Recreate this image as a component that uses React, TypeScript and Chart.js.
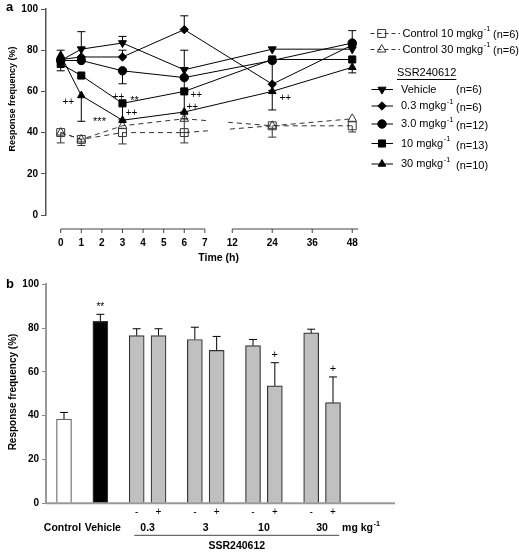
import React, { useEffect, useRef } from 'react';
import { Chart, registerables } from 'chart.js';
import { drawPoint } from 'chart.js/helpers';

Chart.register(...registerables);

const FONT = '"Liberation Sans", Arial, Helvetica, sans-serif';

// ---------------- Panel a data ----------------
const timesH = [0, 1, 3, 6, 24, 48];
const earlyTickHours = [0, 1, 2, 3, 4, 5, 6, 7];
const lateTickHours = [12, 24, 36, 48];

const vehicleA = [75, 80.5, 83.5, 70.5, 80.5, 80.5];
const dose03A = [75.5, 76.7, 76.7, 90, 63.5, 82.5];
const dose3A = [75, 75, 70, 66.7, 75, 83.5];
const dose10A = [73.3, 67.7, 54.2, 60, 75.5, 75.5];
const dose30A = [77.5, 58, 46, 50, 60, 71.7];
const control10A = [40, 36.7, 40, 40, 43.3, 43.3];
const control30A = [40, 36.7, 43.3, 46.7, 43.3, 46.7];

const vehicleErrUp = [0, 8.5, 3.2, 9.5, 0, 0];
const vehicleErrDown = [0, 0, 0, 4, 0, 0];
const dose03ErrUp = [0, 0, 3.3, 6.7, 0, 0];
const dose03ErrDown = [0, 0, 0, 0, 0, 0];
const dose3ErrUp = [0, 0, 0, 0, 0, 6];
const dose3ErrDown = [0, 0, 6.3, 6.7, 0, 0];
const dose10ErrUp = [0, 0, 0, 0, 0, 0];
const dose10ErrDown = [3.3, 0, 8, 10, 15, 0];
const dose30ErrUp = [2.5, 0, 0, 0, 0, 0];
const dose30ErrDown = [0, 12.5, 0, 3.3, 9, 2.7];
const control10ErrUp = [0, 0, 0, 0, 0, 0];
const control10ErrDown = [5, 3, 5.5, 5, 5.5, 3];
const control30ErrUp = [0, 0, 0, 0, 0, 0];
const control30ErrDown = [0, 0, 0, 6.7, 0, 0];

const drugLabels = ['Vehicle', '0.3 mgkg', '3.0 mgkg', '10 mgkg', '30 mgkg'];
const drugLabelSup = [false, true, true, true, true];
const drugN = ['(n=6)', '(n=6)', '(n=12)', '(n=13)', '(n=10)'];
const controlLabels = ['Control 10 mgkg', 'Control 30 mgkg'];
const controlN = ['(n=6)', '(n=6)'];
const drugName = 'SSR240612';
const yTitle = 'Response frequency (%)';
const xTitleA = 'Time (h)';

// significance marks on panel a: series index, point index, offset
const sigMarksA = [
  { text: '++', series: 4, point: 1, dx: -13, dy: 7 },
  { text: '++', series: 3, point: 2, dx: -4, dy: -6 },
  { text: '**', series: 3, point: 2, dx: 12, dy: -5 },
  { text: '***', series: 4, point: 2, dx: -23, dy: -1 },
  { text: '++', series: 4, point: 2, dx: 9, dy: -7 },
  { text: '++', series: 3, point: 3, dx: 12, dy: 4 },
  { text: '++', series: 4, point: 3, dx: 8, dy: -5 },
  { text: '++', series: 4, point: 4, dx: 13, dy: 7 },
];

// ---------------- Panel b data ----------------
const singleLabels = ['Control', 'Vehicle'];
const singleValues = [38.4, 83.1];
const singleErr = [3.1, 3.2];
const singleSig = ['', '**'];
const doseLabels = ['0.3', '3', '10', '30'];
const minusValues = [76.6, 74.8, 72, 77.8];
const minusErr = [3.1, 5.6, 2.8, 1.7];
const minusSig = ['', '', '', ''];
const plusValues = [76.6, 69.8, 53.6, 46];
const plusErr = [3.1, 6.4, 10.6, 11.7];
const plusSig = ['', '', '+', '+'];
const pairSigns = ['-', '+'];
const unitBase = 'mg kg';

// ---------------- Layout / styles ----------------
const W = 519;
const A = { h: 265, left: 46, right: 362, top: 6.7, bottom: 215, xMin: -0.714, xMax: 14.63 };
const B = { h: 287, left: 46, right: 395, top: 19.3, bottom: 238.3, xMin: -2.476, xMax: 45.53 };
const BREAK_START = 7;
const BREAK_END = 12;
const BREAK_OFFSET = 8.33;
const LATE_UNITS_PER_HOUR = 1.942 / 12;
const axisPos = (t: number) => (t <= BREAK_START ? t : BREAK_OFFSET + (t - BREAK_END) * LATE_UNITS_PER_HOUR);

const GROUP_GAP = 5;
const PAIR_GAP = 3;

const markerSpecs = [
  { style: 'triangle', rotation: 180, radius: 4.6 },
  { style: 'rectRot', rotation: 0, radius: 4.2 },
  { style: 'circle', rotation: 0, radius: 4.2 },
  { style: 'rect', rotation: 0, radius: 5 },
  { style: 'triangle', rotation: 0, radius: 4.4 },
];
const controlMarkerSpecs = [
  { style: 'rect', rotation: 0, radius: 5.6 },
  { style: 'triangle', rotation: 0, radius: 5 },
];

function drawMarker(ctx: CanvasRenderingContext2D, spec: any, x: number, y: number, fill: string, stroke: string) {
  ctx.save();
  ctx.setLineDash([]);
  ctx.fillStyle = fill;
  ctx.strokeStyle = stroke;
  ctx.lineWidth = 1;
  drawPoint(ctx, { pointStyle: spec.style, rotation: spec.rotation, radius: spec.radius, borderWidth: 1 } as any, x, y);
  ctx.restore();
}

function supText(ctx: CanvasRenderingContext2D, base: string, sup: string, x: number, y: number, size: number, weight: string) {
  ctx.font = `${weight} ${size}px ${FONT}`;
  ctx.textAlign = 'left';
  ctx.textBaseline = 'middle';
  ctx.fillText(base, x, y);
  const w = ctx.measureText(base).width;
  if (sup) {
    ctx.font = `${weight} ${size * 0.68}px ${FONT}`;
    ctx.fillText(sup, x + w + 0.5, y - size * 0.38);
  }
}

function drawRotatedTitle(ctx: CanvasRenderingContext2D, text: string, x: number, y: number, size: number) {
  ctx.save();
  ctx.translate(x, y);
  ctx.rotate(-Math.PI / 2);
  ctx.font = `bold ${size}px ${FONT}`;
  ctx.textAlign = 'center';
  ctx.textBaseline = 'middle';
  ctx.fillStyle = '#000';
  ctx.fillText(text, 0, 0);
  ctx.restore();
}

function drawErrorBar(ctx: CanvasRenderingContext2D, x: number, y0: number, y1: number, cap: number) {
  ctx.beginPath();
  ctx.moveTo(x, y0);
  ctx.lineTo(x, y1);
  ctx.moveTo(x - cap, y1);
  ctx.lineTo(x + cap, y1);
  ctx.stroke();
}

// ---------------- Panel a config ----------------
const drugSeries = [
  { values: vehicleA, up: vehicleErrUp, down: vehicleErrDown },
  { values: dose03A, up: dose03ErrUp, down: dose03ErrDown },
  { values: dose3A, up: dose3ErrUp, down: dose3ErrDown },
  { values: dose10A, up: dose10ErrUp, down: dose10ErrDown },
  { values: dose30A, up: dose30ErrUp, down: dose30ErrDown },
];
const controlSeries = [
  { values: control10A, up: control10ErrUp, down: control10ErrDown },
  { values: control30A, up: control30ErrUp, down: control30ErrDown },
];
const allSeriesA = [...drugSeries, ...controlSeries];
const FIRST_CONTROL = drugSeries.length;

function buildConfigA(): any {
  const datasets: any[] = [];
  drugSeries.forEach((s, i) => {
    const m = markerSpecs[i];
    datasets.push({
      label: drugLabels[i],
      data: timesH.map((t, j) => ({ x: axisPos(t), y: s.values[j] })),
      borderColor: '#000',
      borderWidth: 1,
      pointStyle: m.style,
      pointRotation: m.rotation,
      pointRadius: m.radius,
      pointBackgroundColor: '#000',
      pointBorderColor: '#000',
      pointBorderWidth: 1,
      tension: 0,
      clip: false,
    });
  });
  controlSeries.forEach((s, i) => {
    const m = controlMarkerSpecs[i];
    datasets.push({
      label: controlLabels[i],
      data: timesH.map((t, j) => ({ x: axisPos(t), y: s.values[j] })),
      borderColor: '#333',
      borderWidth: 1,
      borderDash: [5, 4],
      pointStyle: m.style,
      pointRotation: m.rotation,
      pointRadius: m.radius,
      pointBackgroundColor: 'rgba(0,0,0,0)',
      pointBorderColor: '#333',
      pointBorderWidth: 1,
      tension: 0,
      clip: false,
    });
  });

  const plugin = {
    id: 'panelA',
    beforeDatasetsDraw(chart: any) {
      const ctx = chart.ctx as CanvasRenderingContext2D;
      const ys = chart.scales.y;
      ctx.save();
      ctx.lineWidth = 1;
      allSeriesA.forEach((s, i) => {
        const meta = chart.getDatasetMeta(i);
        ctx.strokeStyle = i >= FIRST_CONTROL ? '#333' : '#000';
        s.values.forEach((v, j) => {
          const pt = meta.data[j];
          if (s.up[j] > 0) drawErrorBar(ctx, pt.x, pt.y, ys.getPixelForValue(v + s.up[j]), 4);
          if (s.down[j] > 0) drawErrorBar(ctx, pt.x, pt.y, ys.getPixelForValue(v - s.down[j]), 4);
        });
      });
      ctx.restore();
    },
    afterDatasetDraw(chart: any, args: any) {
      if (args.index !== FIRST_CONTROL) return;
      const xs = chart.scales.x;
      const ca = chart.chartArea;
      const x0 = xs.getPixelForValue(axisPos(BREAK_START)) + 3;
      const x1 = xs.getPixelForValue(axisPos(BREAK_END)) - 4;
      const ctx = chart.ctx as CanvasRenderingContext2D;
      ctx.save();
      ctx.fillStyle = '#fff';
      ctx.fillRect(x0, ca.top, x1 - x0, ca.bottom - ca.top);
      ctx.restore();
    },
    afterDraw(chart: any) {
      const ctx = chart.ctx as CanvasRenderingContext2D;
      const xs = chart.scales.x;
      const ca = chart.chartArea;
      ctx.save();
      ctx.fillStyle = '#000';
      // broken x axis
      const axisY = ca.bottom + 14;
      ctx.strokeStyle = '#444';
      ctx.lineWidth = 1;
      ctx.setLineDash([]);
      const e0 = xs.getPixelForValue(axisPos(earlyTickHours[0]));
      const e1 = xs.getPixelForValue(axisPos(earlyTickHours[earlyTickHours.length - 1]));
      const l0 = xs.getPixelForValue(axisPos(lateTickHours[0]));
      const l1 = xs.getPixelForValue(axisPos(lateTickHours[lateTickHours.length - 1])) + 6;
      ctx.beginPath();
      ctx.moveTo(e0, axisY); ctx.lineTo(e1, axisY);
      ctx.moveTo(l0, axisY); ctx.lineTo(l1, axisY);
      [...earlyTickHours, ...lateTickHours].forEach((h) => {
        const x = xs.getPixelForValue(axisPos(h));
        ctx.moveTo(x, axisY); ctx.lineTo(x, axisY + 4);
      });
      ctx.stroke();
      ctx.font = `bold 10px ${FONT}`;
      ctx.textAlign = 'center';
      ctx.textBaseline = 'middle';
      [...earlyTickHours, ...lateTickHours].forEach((h) => {
        ctx.fillText(String(h), xs.getPixelForValue(axisPos(h)), axisY + 14.5);
      });
      ctx.font = `bold 10.5px ${FONT}`;
      ctx.fillText(xTitleA, (e1 + l0) / 2, axisY + 29);
      // y title and panel letter
      drawRotatedTitle(ctx, yTitle, 13, 99, 9);
      ctx.font = `bold 13px ${FONT}`;
      ctx.textAlign = 'left';
      ctx.fillText('a', 6, 7);
      // significance marks
      sigMarksA.forEach((m) => {
        const pt = chart.getDatasetMeta(m.series).data[m.point];
        ctx.font = `${m.text.includes('*') ? 11 : 10}px ${FONT}`;
        ctx.textAlign = 'center';
        ctx.textBaseline = 'middle';
        ctx.fillText(m.text, pt.x + m.dx, pt.y + m.dy + (m.text.includes('*') ? 3 : 0));
      });
      // legend: controls
      const ctlRows = [33.5, 49.5];
      controlLabels.forEach((lab, i) => {
        const y = ctlRows[i];
        ctx.strokeStyle = '#333';
        ctx.lineWidth = 1;
        ctx.setLineDash([4, 3]);
        ctx.beginPath(); ctx.moveTo(370.5, y); ctx.lineTo(400, y); ctx.stroke();
        drawMarker(ctx, controlMarkerSpecs[i], 381.7, y, 'rgba(0,0,0,0)', '#333');
        ctx.fillStyle = '#000';
        supText(ctx, lab, '-1', 402.5, y, 11, 'normal');
        ctx.font = `normal 11px ${FONT}`;
        ctx.fillText(controlN[i], 493, y + 1);
      });
      // heading
      ctx.font = `normal 11px ${FONT}`;
      ctx.textAlign = 'left';
      ctx.fillText(drugName, 397, 73);
      const hw = ctx.measureText(drugName).width;
      ctx.setLineDash([]);
      ctx.strokeStyle = '#000';
      ctx.beginPath(); ctx.moveTo(397, 79.5); ctx.lineTo(397 + hw, 79.5); ctx.stroke();
      // legend: drug series
      const rows = [89.5, 106, 124, 143.5, 164];
      drugLabels.forEach((lab, i) => {
        const y = rows[i];
        ctx.strokeStyle = '#000';
        ctx.lineWidth = 1;
        ctx.beginPath(); ctx.moveTo(371.5, y); ctx.lineTo(393, y); ctx.stroke();
        drawMarker(ctx, markerSpecs[i], 382, y, '#000', '#000');
        ctx.fillStyle = '#000';
        supText(ctx, lab, drugLabelSup[i] ? '-1' : '', 401, y, 11, 'normal');
        ctx.font = `normal 11px ${FONT}`;
        ctx.fillText(drugN[i], 456, y + (drugLabelSup[i] ? 2 : 0));
      });
      ctx.restore();
    },
  };

  return {
    type: 'line',
    data: { datasets },
    options: {
      responsive: false,
      animation: false,
      events: [],
      layout: { padding: { left: 0, right: W - A.right, top: A.top, bottom: A.h - A.bottom } },
      plugins: { legend: { display: false }, tooltip: { enabled: false } },
      scales: {
        x: { type: 'linear', min: A.xMin, max: A.xMax, display: false },
        y: {
          min: 0,
          max: 100,
          ticks: { stepSize: 20, color: '#000', padding: 3, font: { family: FONT, size: 10, weight: 'bold' } },
          grid: { drawOnChartArea: false, tickLength: 5, color: '#555', lineWidth: 1 },
          border: { color: '#555', width: 1.5 },
          afterFit: (s: any) => { s.width = A.left; },
        },
      },
    },
    plugins: [plugin],
  };
}

// ---------------- Panel b config ----------------
function buildBars() {
  const bars: any[] = [];
  let pos = 0;
  singleLabels.forEach((lab, i) => {
    if (i > 0) pos += GROUP_GAP;
    bars.push({ x: pos, y: singleValues[i], err: singleErr[i], sig: singleSig[i], color: i === 0 ? '#ffffff' : '#000000', sign: '', group: lab, single: true });
  });
  doseLabels.forEach((lab, k) => {
    pos += GROUP_GAP;
    bars.push({ x: pos, y: minusValues[k], err: minusErr[k], sig: minusSig[k], color: '#c0c0c0', sign: pairSigns[0], group: lab, single: false });
    pos += PAIR_GAP;
    bars.push({ x: pos, y: plusValues[k], err: plusErr[k], sig: plusSig[k], color: '#c0c0c0', sign: pairSigns[1], group: lab, single: false });
  });
  return bars;
}

function buildConfigB(): any {
  const bars = buildBars();
  const plugin = {
    id: 'panelB',
    afterDraw(chart: any) {
      const ctx = chart.ctx as CanvasRenderingContext2D;
      const xs = chart.scales.x;
      const ys = chart.scales.y;
      const ca = chart.chartArea;
      ctx.save();
      // x axis line
      ctx.strokeStyle = '#999';
      ctx.lineWidth = 2;
      ctx.beginPath(); ctx.moveTo(ca.left, ca.bottom); ctx.lineTo(ca.right, ca.bottom); ctx.stroke();
      // error bars + significance
      ctx.strokeStyle = '#000';
      ctx.lineWidth = 1;
      ctx.fillStyle = '#000';
      bars.forEach((b) => {
        const x = xs.getPixelForValue(b.x);
        const yTop = ys.getPixelForValue(b.y);
        const yCap = ys.getPixelForValue(b.y + b.err);
        drawErrorBar(ctx, x, yTop, yCap, 4);
        if (b.sig) {
          ctx.font = `normal ${b.sig.includes('*') ? 10 : 11}px ${FONT}`;
          ctx.textAlign = 'center';
          ctx.textBaseline = 'middle';
          ctx.fillText(b.sig, x, yCap - (b.sig.includes('*') ? 7 : 8));
        }
      });
      // signs under pair bars
      ctx.font = `normal 10px ${FONT}`;
      ctx.textAlign = 'center';
      ctx.textBaseline = 'middle';
      bars.forEach((b) => { if (b.sign) ctx.fillText(b.sign, xs.getPixelForValue(b.x), ca.bottom + 9); });
      // group labels
      ctx.font = `bold 10.5px ${FONT}`;
      const groups: string[] = [];
      bars.forEach((b) => { if (!groups.includes(b.group)) groups.push(b.group); });
      const centers = groups.map((g) => {
        const gb = bars.filter((b) => b.group === g);
        return (xs.getPixelForValue(gb[0].x) + xs.getPixelForValue(gb[gb.length - 1].x)) / 2;
      });
      groups.forEach((g, i) => {
        const shift = i === 0 ? -1.5 : i === 1 ? 2.5 : 0;
        ctx.fillText(g, centers[i] + shift, ca.bottom + 24.5);
      });
      const lastCenter = centers[centers.length - 1];
      supText(ctx, unitBase, '-1', lastCenter + 20, ca.bottom + 24.5, 10.5, 'bold');
      // drug bracket
      const pairBars = bars.filter((b) => !b.single);
      const lx0 = xs.getPixelForValue(pairBars[0].x) - 2.4;
      const lx1 = xs.getPixelForValue(pairBars[pairBars.length - 1].x) + 6.3;
      ctx.strokeStyle = '#444';
      ctx.lineWidth = 1;
      ctx.beginPath(); ctx.moveTo(lx0, ca.bottom + 32); ctx.lineTo(lx1, ca.bottom + 32); ctx.stroke();
      ctx.font = `bold 10.5px ${FONT}`;
      ctx.textAlign = 'center';
      ctx.fillText(drugName, (lx0 + lx1) / 2, ca.bottom + 43);
      // titles
      drawRotatedTitle(ctx, yTitle, 13, 127, 10);
      ctx.font = `bold 13px ${FONT}`;
      ctx.textAlign = 'left';
      ctx.textBaseline = 'middle';
      ctx.fillText('b', 6, 19);
      ctx.restore();
    },
  };
  return {
    type: 'bar',
    data: {
      datasets: [{
        data: bars.map((b) => ({ x: b.x, y: b.y })),
        backgroundColor: bars.map((b) => b.color),
        borderColor: bars.map((b) => (b.single && b.color === '#ffffff' ? '#666' : '#333')),
        borderWidth: 1.2,
        barThickness: 15,
      }],
    },
    options: {
      responsive: false,
      animation: false,
      events: [],
      layout: { padding: { left: 0, right: W - B.right, top: B.top, bottom: B.h - B.bottom } },
      plugins: { legend: { display: false }, tooltip: { enabled: false } },
      scales: {
        x: { type: 'linear', min: B.xMin, max: B.xMax, offset: false, display: false },
        y: {
          min: 0,
          max: 100,
          ticks: { stepSize: 20, color: '#000', padding: 3, font: { family: FONT, size: 10, weight: 'bold' } },
          grid: { drawOnChartArea: false, tickLength: 4, color: '#888', lineWidth: 1 },
          border: { color: '#999', width: 2 },
          afterFit: (s: any) => { s.width = B.left; },
        },
      },
    },
    plugins: [plugin],
  };
}

export default function App() {
  const refA = useRef<HTMLCanvasElement>(null);
  const refB = useRef<HTMLCanvasElement>(null);
  useEffect(() => {
    const ca = new Chart(refA.current as HTMLCanvasElement, buildConfigA());
    const cb = new Chart(refB.current as HTMLCanvasElement, buildConfigB());
    return () => { ca.destroy(); cb.destroy(); };
  }, []);
  return (
    <div style={{ position: 'absolute', left: 0, top: 0, width: W, height: A.h + B.h, background: '#fff' }}>
      <canvas ref={refA} width={W} height={A.h} style={{ position: 'absolute', left: 0, top: 0, width: W, height: A.h }} />
      <canvas ref={refB} width={W} height={B.h} style={{ position: 'absolute', left: 0, top: A.h, width: W, height: B.h }} />
    </div>
  );
}
